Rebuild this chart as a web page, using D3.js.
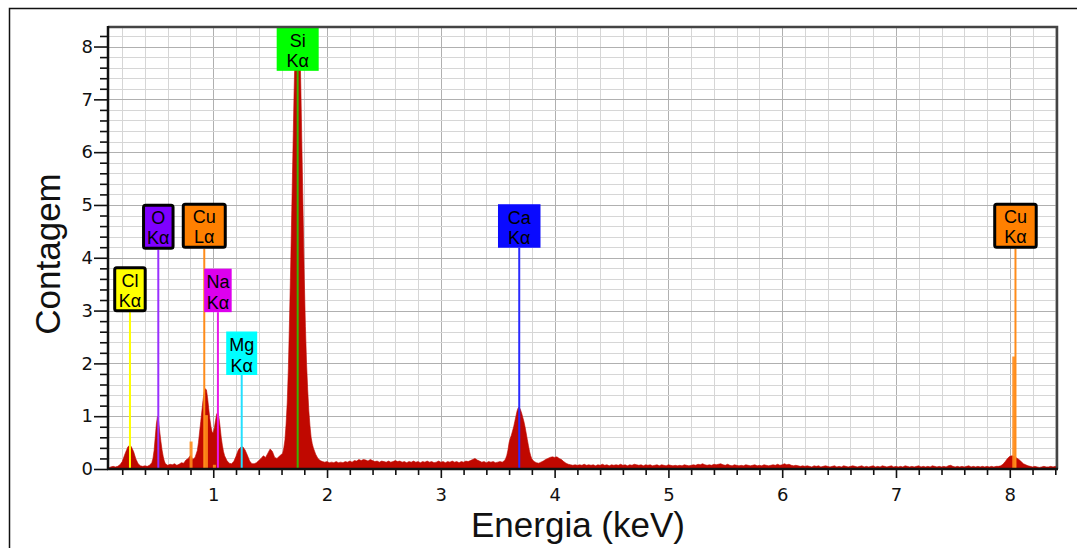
<!DOCTYPE html>
<html>
<head>
<meta charset="utf-8">
<script src="https://cdn.jsdelivr.net/npm/d3@7"></script>
<style>
  html, body { margin: 0; padding: 0; background: #fff; }
  svg { display: block; }
</style>
</head>
<body>
<svg id="chart" width="1077" height="548"></svg>
<script>
// EDS spectrum samples: [energy (keV), counts]
const spectrum = [
  [0.08,0.02],[0.10,0.04],[0.12,0.05],[0.14,0.04],[0.16,0.05],
  [0.18,0.08],[0.20,0.14],[0.22,0.26],[0.24,0.37],[0.25,0.42],[0.26,0.44],[0.27,0.45],[0.28,0.42],[0.30,0.33],[0.32,0.19],[0.34,0.10],[0.36,0.06],
  [0.38,0.05],[0.40,0.06],[0.42,0.05],[0.44,0.07],
  [0.46,0.12],[0.47,0.20],[0.48,0.35],[0.49,0.60],[0.50,0.85],[0.51,1.00],[0.52,0.90],[0.53,0.70],[0.54,0.52],[0.55,0.36],[0.56,0.24],[0.57,0.15],[0.58,0.10],
  [0.60,0.07],[0.62,0.09],[0.64,0.08],[0.66,0.10],[0.68,0.07],[0.70,0.09],[0.72,0.12],[0.74,0.11],[0.76,0.17],[0.78,0.20],[0.80,0.26],[0.82,0.18],[0.84,0.22],
  [0.86,0.35],[0.87,0.50],[0.88,0.70],[0.89,0.90],[0.90,1.10],[0.91,1.30],[0.92,1.45],[0.93,1.52],[0.94,1.50],[0.95,1.35],[0.96,1.15],[0.97,0.95],[0.98,0.80],[0.99,0.70],
  [1.00,0.68],[1.01,0.78],[1.02,0.92],[1.03,1.04],[1.04,1.07],[1.05,0.98],[1.06,0.80],[1.07,0.60],[1.08,0.45],[1.09,0.33],[1.10,0.25],[1.12,0.16],[1.14,0.11],[1.16,0.10],[1.18,0.14],
  [1.20,0.24],[1.22,0.36],[1.24,0.41],[1.26,0.42],[1.28,0.36],[1.30,0.26],[1.32,0.15],[1.34,0.10],[1.36,0.10],[1.38,0.12],[1.40,0.16],[1.42,0.20],[1.44,0.25],[1.46,0.22],
  [1.48,0.30],[1.50,0.38],[1.52,0.33],[1.54,0.22],[1.56,0.20],[1.58,0.24],[1.60,0.28],
  [1.61,0.30],[1.62,0.40],[1.63,0.55],[1.64,0.85],[1.65,1.25],[1.66,1.90],[1.67,2.80],[1.68,3.80],[1.69,4.90],[1.70,6.00],[1.71,7.10],[1.72,8.00],[1.73,8.50],[1.74,8.70],
  [1.75,8.60],[1.76,8.20],[1.77,7.20],[1.78,6.00],[1.79,4.80],[1.80,3.60],[1.81,2.70],[1.82,2.00],[1.83,1.50],[1.84,1.10],[1.85,0.82],[1.86,0.60],[1.87,0.48],[1.88,0.40],
  [1.90,0.28],[1.92,0.20],[1.94,0.16],[1.96,0.14],
  [1.98,0.13],[2.00,0.14],[2.02,0.12],[2.04,0.13],[2.06,0.12],[2.08,0.14],[2.10,0.12],[2.12,0.13],[2.14,0.12],[2.16,0.14],[2.18,0.13],[2.20,0.15],[2.22,0.13],[2.24,0.16],
  [2.26,0.15],[2.28,0.18],[2.30,0.16],[2.32,0.18],[2.34,0.17],[2.36,0.15],[2.38,0.18],[2.40,0.16],[2.42,0.14],[2.44,0.15],[2.46,0.13],[2.48,0.15],[2.50,0.14],[2.52,0.13],
  [2.54,0.15],[2.56,0.13],[2.58,0.14],[2.60,0.16],[2.62,0.14],[2.64,0.15],[2.66,0.13],[2.68,0.14],[2.70,0.12],[2.72,0.14],[2.74,0.13],[2.76,0.15],[2.78,0.13],[2.80,0.14],
  [2.82,0.12],[2.84,0.14],[2.86,0.13],[2.88,0.15],[2.90,0.13],[2.92,0.14],[2.94,0.12],[2.96,0.13],[2.98,0.15],[3.00,0.13],[3.02,0.14],[3.04,0.12],[3.06,0.14],[3.08,0.13],
  [3.10,0.15],[3.12,0.13],[3.14,0.14],[3.16,0.12],[3.18,0.14],[3.20,0.13],[3.22,0.15],[3.24,0.14],[3.26,0.16],[3.28,0.18],[3.30,0.20],[3.32,0.17],[3.34,0.15],[3.36,0.13],
  [3.38,0.14],[3.40,0.12],[3.42,0.14],[3.44,0.13],[3.46,0.14],[3.48,0.12],[3.50,0.13],[3.52,0.14],[3.54,0.13],[3.56,0.16],
  [3.57,0.20],[3.58,0.26],[3.59,0.36],[3.60,0.50],[3.61,0.58],[3.62,0.64],[3.63,0.72],[3.64,0.80],[3.65,0.90],[3.66,1.00],[3.67,1.10],[3.68,1.16],[3.69,1.17],[3.70,1.12],
  [3.71,1.06],[3.72,0.98],[3.73,0.90],[3.74,0.80],[3.75,0.68],[3.76,0.56],[3.77,0.44],[3.78,0.33],[3.79,0.25],[3.80,0.19],[3.82,0.14],[3.84,0.12],[3.86,0.11],[3.88,0.13],
  [3.90,0.15],[3.92,0.18],[3.94,0.20],[3.96,0.22],[3.98,0.23],[4.00,0.22],[4.02,0.23],[4.04,0.20],[4.06,0.18],[4.08,0.14],[4.10,0.11],[4.12,0.09],[4.14,0.08],
  [4.16,0.07],[4.18,0.08],[4.20,0.07],[4.22,0.08],[4.24,0.07],[4.26,0.09],[4.28,0.07],[4.30,0.08],[4.32,0.07],[4.34,0.08],[4.36,0.06],[4.38,0.08],[4.40,0.07],[4.42,0.09],
  [4.44,0.07],[4.46,0.08],[4.48,0.06],[4.50,0.08],[4.52,0.07],[4.54,0.08],[4.56,0.07],[4.58,0.09],[4.60,0.07],[4.62,0.08],[4.64,0.06],[4.66,0.08],[4.68,0.07],[4.70,0.09],
  [4.72,0.08],[4.74,0.07],[4.76,0.08],[4.78,0.06],[4.80,0.08],[4.82,0.07],[4.84,0.08],[4.86,0.06],[4.88,0.07],[4.90,0.08],[4.92,0.06],[4.94,0.08],[4.96,0.07],[4.98,0.06],
  [5.00,0.08],[5.02,0.07],[5.04,0.06],[5.06,0.07],[5.08,0.06],[5.10,0.07],[5.12,0.06],[5.14,0.08],[5.16,0.07],[5.18,0.06],[5.20,0.07],[5.22,0.08],[5.24,0.07],[5.26,0.09],
  [5.28,0.08],[5.30,0.10],[5.32,0.08],[5.34,0.07],[5.36,0.08],[5.38,0.07],[5.40,0.09],[5.42,0.08],[5.44,0.09],[5.46,0.10],[5.48,0.08],[5.50,0.07],[5.52,0.09],[5.54,0.07],
  [5.56,0.06],[5.58,0.08],[5.60,0.07],[5.62,0.06],[5.64,0.07],[5.66,0.06],[5.68,0.08],[5.70,0.07],[5.72,0.06],[5.74,0.07],[5.76,0.08],[5.78,0.06],[5.80,0.07],[5.82,0.06],
  [5.84,0.08],[5.86,0.07],[5.88,0.06],[5.90,0.07],[5.92,0.08],[5.94,0.07],[5.96,0.09],[5.98,0.07],[6.00,0.08],[6.02,0.10],[6.04,0.08],[6.06,0.09],[6.08,0.07],[6.10,0.06],
  [6.12,0.07],[6.14,0.06],[6.16,0.05],[6.18,0.06],[6.20,0.05],[6.22,0.06],[6.24,0.05],[6.26,0.04],[6.28,0.06],[6.30,0.05],[6.32,0.06],[6.34,0.04],[6.36,0.05],[6.38,0.06],
  [6.40,0.05],[6.42,0.04],[6.44,0.05],[6.46,0.06],[6.48,0.04],[6.50,0.05],[6.52,0.04],[6.54,0.06],[6.56,0.05],[6.58,0.04],[6.60,0.05],[6.62,0.06],[6.64,0.05],[6.66,0.04],
  [6.68,0.05],[6.70,0.06],[6.72,0.04],[6.74,0.05],[6.76,0.04],[6.78,0.05],[6.80,0.06],[6.82,0.04],[6.84,0.05],[6.86,0.04],[6.88,0.06],[6.90,0.05],[6.92,0.04],[6.94,0.05],
  [6.96,0.06],[6.98,0.04],[7.00,0.05],[7.02,0.04],[7.04,0.05],[7.06,0.04],[7.08,0.06],[7.10,0.05],[7.12,0.04],[7.14,0.05],[7.16,0.04],[7.18,0.05],[7.20,0.06],[7.22,0.04],
  [7.24,0.05],[7.26,0.04],[7.28,0.05],[7.30,0.04],[7.32,0.06],[7.34,0.05],[7.36,0.04],[7.38,0.05],[7.40,0.04],[7.42,0.05],[7.44,0.04],[7.46,0.06],[7.48,0.07],[7.50,0.05],
  [7.52,0.04],[7.54,0.05],[7.56,0.04],[7.58,0.05],[7.60,0.04],[7.62,0.05],[7.64,0.06],[7.66,0.04],[7.68,0.05],[7.70,0.04],[7.72,0.05],[7.74,0.04],[7.76,0.05],[7.78,0.04],
  [7.80,0.05],[7.82,0.04],[7.84,0.05],[7.86,0.04],[7.88,0.05],[7.90,0.05],[7.92,0.06],
  [7.94,0.09],[7.96,0.14],[7.98,0.20],[8.00,0.24],[8.02,0.25],[8.04,0.24],[8.06,0.21],[8.08,0.18],[8.10,0.14],[8.12,0.10],[8.14,0.08],[8.16,0.06],[8.18,0.05],
  [8.20,0.04],[8.22,0.05],[8.24,0.04],[8.26,0.03],[8.28,0.04],[8.30,0.05],[8.32,0.04],[8.34,0.04],[8.36,0.05],[8.38,0.04],[8.40,0.05],[8.42,0.04]
];

// Identified lines
const markerElements = ["Cl", "O", "Cu", "Na", "Mg", "Si", "Ca", "Cu"];
const markerShells   = ["Kα", "Kα", "Lα", "Kα", "Kα", "Kα", "Kα", "Kα"];
const markerEnergies = [0.268, 0.517, 0.921, 1.041, 1.250, 1.742, 3.689, 8.050];

// Cu reference bars (energy keV, counts)
const cuRefEnergies = [0.805, 0.940, 1.010, 8.035];
const cuRefCounts   = [0.52, 1.02, 0.08, 2.13];

const xTickLabels = ["1", "2", "3", "4", "5", "6", "7", "8"];
const yTickLabels = ["0", "1", "2", "3", "4", "5", "6", "7", "8"];

// ---- layout ----
const W = 1077, H = 548;
const plot = { left: 108, right: 1057, top: 27, bottom: 469 };

const svg = d3.select("#chart");

const x = d3.scaleLinear().domain([0.075, 8.415]).range([plot.left, plot.right]);
const y = d3.scaleLinear().domain([0, 8.37]).range([plot.bottom, plot.top]);

// outer frame (open on right/bottom edges of the page)
svg.append("path")
  .attr("d", `M9.5,${H} L9.5,8.5 L${W},8.5`)
  .attr("fill", "none").attr("stroke", "#111").attr("stroke-width", 1.5);

// plot background
svg.append("rect")
  .attr("x", plot.left).attr("y", plot.top)
  .attr("width", plot.right - plot.left).attr("height", plot.bottom - plot.top)
  .attr("fill", "#fff");

const clip = svg.append("defs").append("clipPath").attr("id", "plotClip");
clip.append("rect")
  .attr("x", plot.left).attr("y", plot.top)
  .attr("width", plot.right - plot.left).attr("height", plot.bottom - plot.top);

const minorX = d3.range(0.2, 8.41, 0.2).map(v => +v.toFixed(1));
const minorY = d3.range(0.2, 8.37, 0.2).map(v => +v.toFixed(1));
const isInt = v => Math.abs(v - Math.round(v)) < 1e-6;

// grid
const grid = svg.append("g");
grid.selectAll(".gx").data(minorX).join("line")
  .attr("x1", d => Math.round(x(d)) + 0.5).attr("x2", d => Math.round(x(d)) + 0.5)
  .attr("y1", plot.top).attr("y2", plot.bottom)
  .attr("stroke", d => isInt(d) ? "#b0b0b0" : "#d6d6d6").attr("stroke-width", 1);
grid.selectAll(".gy").data(minorY).join("line")
  .attr("y1", d => Math.round(y(d)) + 0.5).attr("y2", d => Math.round(y(d)) + 0.5)
  .attr("x1", plot.left).attr("x2", plot.right)
  .attr("stroke", d => isInt(d) ? "#b0b0b0" : "#d6d6d6").attr("stroke-width", 1);

const plotG = svg.append("g").attr("clip-path", "url(#plotClip)");

// spectrum
const area = d3.area()
  .x(d => x(d[0]))
  .y0(y(0))
  .y1(d => y(d[1]))
  .curve(d3.curveLinear);
plotG.append("path")
  .datum(spectrum)
  .attr("d", area)
  .attr("fill", "#c00800")
  .attr("stroke", "#c00800")
  .attr("stroke-width", 0.6);

// Cu reference bars
plotG.selectAll(".cuRef").data(cuRefEnergies).join("rect")
  .attr("x", d => x(d) - 1.5)
  .attr("width", 3)
  .attr("y", (d, i) => y(cuRefCounts[i]))
  .attr("height", (d, i) => y(0) - y(cuRefCounts[i]))
  .attr("fill", "#ff8c1a")
  .attr("opacity", 0.9);

// marker label styling
const markerStyle = [
  { box: "#ffff00", line: "#ffff00", bottom: 2.97, w: 33.5, border: true  },
  { box: "#7f00ff", line: "#9a30ff", bottom: 4.15, w: 32.5, border: true  },
  { box: "#ff8000", line: "#ff8c1a", bottom: 4.17, w: 45,   border: true  },
  { box: "#dd00ee", line: "#e81ae8", bottom: 2.97, w: 27.5, border: false },
  { box: "#00ffff", line: "#22e0ff", bottom: 1.78, w: 31,   border: false },
  { box: "#00ff00", line: "#3cb400", bottom: 7.54, w: 42,   border: false },
  { box: "#0a0aff", line: "#2b2bff", bottom: 4.19, w: 42.5, border: false },
  { box: "#ff8000", line: "#ff8c1a", bottom: 4.17, w: 44.5, border: true  }
];

// marker lines
svg.append("g").selectAll("line").data(markerEnergies).join("line")
  .attr("x1", d => x(d)).attr("x2", d => x(d))
  .attr("y1", (d, i) => y(markerStyle[i].bottom))
  .attr("y2", y(0))
  .attr("stroke", (d, i) => markerStyle[i].line)
  .attr("stroke-width", 2);

// marker labels
const labelFont = "'Liberation Sans', Arial, sans-serif";
const labels = svg.append("g").selectAll("g").data(markerEnergies).join("g")
  .attr("transform", (d, i) => {
    const s = markerStyle[i];
    const h = s.border ? 46 : 43.5;
    return `translate(${x(d) - s.w / 2},${y(s.bottom) - h})`;
  });
labels.append("rect")
  .attr("x", (d, i) => markerStyle[i].border ? 1.5 : 0)
  .attr("y", (d, i) => markerStyle[i].border ? 1.5 : 0)
  .attr("width", (d, i) => markerStyle[i].w - (markerStyle[i].border ? 3 : 0))
  .attr("height", (d, i) => markerStyle[i].border ? 43 : 43.5)
  .attr("rx", (d, i) => markerStyle[i].border ? 2 : 0)
  .attr("fill", (d, i) => markerStyle[i].box)
  .attr("stroke", (d, i) => markerStyle[i].border ? "#000" : "none")
  .attr("stroke-width", 3);
labels.append("text")
  .attr("x", (d, i) => markerStyle[i].w / 2)
  .attr("y", (d, i) => markerStyle[i].border ? 20.5 : 19.5)
  .attr("text-anchor", "middle")
  .attr("font-family", labelFont)
  .attr("font-size", 18)
  .attr("fill", "#000")
  .text((d, i) => markerElements[i]);
labels.append("text")
  .attr("x", (d, i) => markerStyle[i].w / 2)
  .attr("y", (d, i) => markerStyle[i].border ? 40.5 : 40)
  .attr("text-anchor", "middle")
  .attr("font-family", labelFont)
  .attr("font-size", 18)
  .attr("fill", "#000")
  .text((d, i) => markerShells[i]);

// plot frame: top/right darker gray
svg.append("path")
  .attr("d", `M${plot.left},${plot.top} L${plot.right},${plot.top} L${plot.right},${plot.bottom}`)
  .attr("fill", "none").attr("stroke", "#444").attr("stroke-width", 2.5);

// axes
const tickFont = "'DejaVu Sans', Verdana, sans-serif";

const xMinor = d3.axisBottom(x).tickValues(minorX.filter(v => !isInt(v))).tickSize(6).tickFormat("");
const xMajor = d3.axisBottom(x).tickValues(xTickLabels.map(Number)).tickSize(9).tickPadding(10)
  .tickFormat((d, i) => xTickLabels[i]);
const yMinor = d3.axisLeft(y).tickValues(minorY.filter(v => !isInt(v))).tickSize(8).tickFormat("");
const yMajor = d3.axisLeft(y).tickValues(yTickLabels.map(Number)).tickSize(14).tickPadding(1)
  .tickFormat((d, i) => yTickLabels[i]);

function styleAxis(g) {
  g.select(".domain").remove();
  g.selectAll(".tick line").attr("stroke", "#111").attr("stroke-width", 1.6);
  g.selectAll(".tick text").attr("font-family", tickFont).attr("font-size", 18).attr("fill", "#111");
}
svg.append("g").attr("transform", `translate(0,${plot.bottom})`).call(xMinor).call(styleAxis);
svg.append("g").attr("transform", `translate(0,${plot.bottom})`).call(xMajor).call(styleAxis);
svg.append("g").attr("transform", `translate(${plot.left},0)`).call(yMinor).call(styleAxis);
svg.append("g").attr("transform", `translate(${plot.left},0)`).call(yMajor).call(styleAxis);

// axis lines
svg.append("line")
  .attr("x1", plot.left).attr("x2", plot.left)
  .attr("y1", plot.top - 1).attr("y2", plot.bottom + 1)
  .attr("stroke", "#111").attr("stroke-width", 2.5);
svg.append("line")
  .attr("x1", plot.left - 1).attr("x2", plot.right + 1)
  .attr("y1", plot.bottom).attr("y2", plot.bottom)
  .attr("stroke", "#111").attr("stroke-width", 2.5);

// axis titles
svg.append("text")
  .attr("transform", `translate(60,254) rotate(-90)`)
  .attr("text-anchor", "middle")
  .attr("font-family", labelFont)
  .attr("font-size", 35)
  .attr("fill", "#111")
  .text("Contagem");
svg.append("text")
  .attr("x", 578).attr("y", 537)
  .attr("text-anchor", "middle")
  .attr("font-family", labelFont)
  .attr("font-size", 35)
  .attr("fill", "#111")
  .text("Energia (keV)");
</script>
</body>
</html>
